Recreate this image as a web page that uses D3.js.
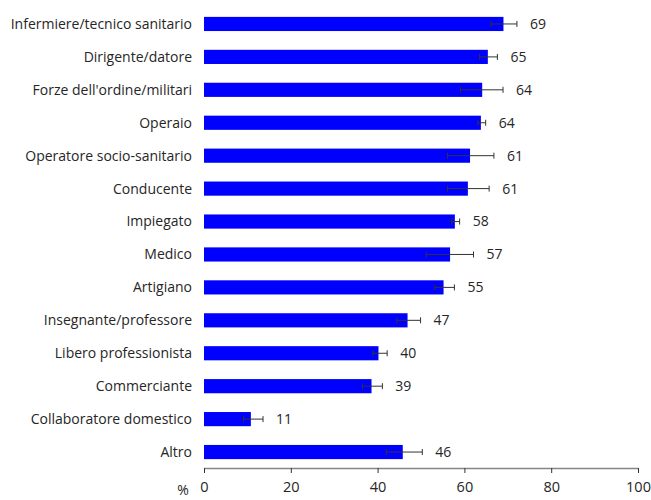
<!DOCTYPE html>
<html>
<head>
<meta charset="utf-8">
<script src="https://cdn.jsdelivr.net/npm/d3@7"></script>
<style>
  body { margin: 0; background: #fff; }
  text { font-family: "Open Sans", sans-serif; fill: #262626; }
</style>
</head>
<body>
<script>
// categories, top to bottom
var categories = ["Infermiere/tecnico sanitario", "Dirigente/datore", "Forze dell'ordine/militari",
  "Operaio", "Operatore socio-sanitario", "Conducente", "Impiegato", "Medico", "Artigiano",
  "Insegnante/professore", "Libero professionista", "Commerciante", "Collaboratore domestico", "Altro"];
var values = [69, 65.4, 64.1, 63.8, 61.3, 60.8, 57.8, 56.7, 55.2, 46.9, 40.2, 38.6, 10.8, 45.8];
var labels = ["69", "65", "64", "64", "61", "61", "58", "57", "55", "47", "40", "39", "11", "46"];
var errLow = [66.1, 63.5, 59.1, 63.1, 56.1, 56.1, 57.1, 51.2, 53.2, 44.4, 38.9, 36.5, 9.1, 42.0];
var errHigh = [72.1, 67.6, 68.9, 64.9, 66.8, 65.7, 58.9, 62.1, 57.7, 49.9, 42.2, 41.1, 13.6, 50.3];
var xTicks = [0, 20, 40, 60, 80, 100];

var width = 651, height = 500;
var svg = d3.select("body").append("svg")
            .attr("width", width)
            .attr("height", height);

var x = d3.scaleLinear().domain([0, 100]).range([204, 638]);
var y = d3.scaleBand().domain(categories).range([7.5, 468.5]).paddingInner(0.57).paddingOuter(0.285);

var rows = categories.map(function(c, i) {
  return {cat: c, v: values[i], lab: labels[i], lo: errLow[i], hi: errHigh[i]};
});

// bars
svg.selectAll("rect.bar")
   .data(rows)
   .enter()
   .append("rect")
   .attr("class", "bar")
   .attr("x", x(0))
   .attr("y", function(d) { return y(d.cat); })
   .attr("width", function(d) { return x(d.v) - x(0); })
   .attr("height", y.bandwidth())
   .attr("fill", "#0000ff");

// error bars
var eb = svg.selectAll("g.err")
            .data(rows)
            .enter()
            .append("g")
            .attr("class", "err")
            .attr("stroke", "#333")
            .attr("stroke-width", 1);
eb.append("line")
  .attr("x1", function(d) { return x(d.lo); })
  .attr("x2", function(d) { return x(d.hi); })
  .attr("y1", function(d) { return y(d.cat) + y.bandwidth() / 2; })
  .attr("y2", function(d) { return y(d.cat) + y.bandwidth() / 2; });
eb.append("line")
  .attr("x1", function(d) { return x(d.lo); })
  .attr("x2", function(d) { return x(d.lo); })
  .attr("y1", function(d) { return y(d.cat) + y.bandwidth() / 2 - 3; })
  .attr("y2", function(d) { return y(d.cat) + y.bandwidth() / 2 + 3; });
eb.append("line")
  .attr("x1", function(d) { return x(d.hi); })
  .attr("x2", function(d) { return x(d.hi); })
  .attr("y1", function(d) { return y(d.cat) + y.bandwidth() / 2 - 3; })
  .attr("y2", function(d) { return y(d.cat) + y.bandwidth() / 2 + 3; });

// value labels
svg.selectAll("text.val")
   .data(rows)
   .enter()
   .append("text")
   .attr("class", "val")
   .attr("x", function(d) { return Math.max(x(d.hi), x(d.v)) + 13; })
   .attr("y", function(d) { return y(d.cat) + y.bandwidth() / 2; })
   .attr("dy", "0.35em")
   .attr("font-size", "14px")
   .text(function(d) { return d.lab; });

// category labels
svg.selectAll("text.cat")
   .data(rows)
   .enter()
   .append("text")
   .attr("class", "cat")
   .attr("x", 192)
   .attr("y", function(d) { return y(d.cat) + y.bandwidth() / 2; })
   .attr("dy", "0.35em")
   .attr("text-anchor", "end")
   .attr("font-size", "14px")
   .text(function(d) { return d.cat; });

// x axis
var axis = svg.append("g")
              .attr("transform", "translate(0,468)")
              .call(d3.axisBottom(x).tickValues(xTicks).tickSize(5).tickSizeOuter(0).tickPadding(9));
axis.select(".domain").attr("stroke", "#868686").attr("stroke-width", 1.5);
axis.selectAll(".tick line").attr("stroke", "#333");
axis.selectAll(".tick text").attr("font-size", "14.5px").attr("font-family", "'Open Sans', sans-serif").attr("fill", "#262626");

svg.append("text")
   .attr("x", 183)
   .attr("y", 490)
   .attr("dy", "0.35em")
   .attr("text-anchor", "middle")
   .attr("font-size", "14px")
   .text("%");
</script>
</body>
</html>
